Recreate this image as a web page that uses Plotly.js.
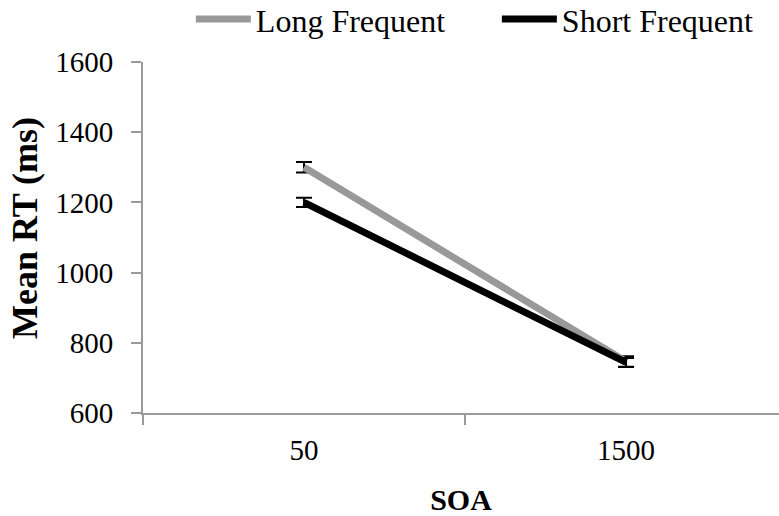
<!DOCTYPE html>
<html>
<head>
<meta charset="utf-8">
<script src="https://cdn.plot.ly/plotly-3.0.1.min.js"></script>
<style>html,body{margin:0;padding:0;overflow:hidden;background:#fff;}</style>
</head>
<body>
<div id="chart" style="width:779px;height:516px;"></div>
<script>
const categories = ["50", "1500"];
const longFrequent = [1300, 747];
const longFrequentErr = [15, 15];
const shortFrequent = [1200, 744];
const shortFrequentErr = [13, 13];
const yTicks = [600, 800, 1000, 1200, 1400, 1600];

const font = "Liberation Serif, Times New Roman, serif";
const axisGray = "#9a9a9a";

const traces = [
  {
    x: categories, y: longFrequent, name: "Long Frequent", type: "scatter", mode: "lines",
    line: {color: "#999999", width: 7},
    error_y: {type: "data", array: longFrequentErr, visible: true, color: "#000", thickness: 2, width: 8}
  },
  {
    x: categories, y: shortFrequent, name: "Short Frequent", type: "scatter", mode: "lines",
    line: {color: "#000000", width: 7},
    error_y: {type: "data", array: shortFrequentErr, visible: true, color: "#000", thickness: 2, width: 8}
  }
];

const layout = {
  width: 779, height: 516,
  margin: {l: 143, r: 0, t: 62, b: 103, autoexpand: false},
  paper_bgcolor: "#fff", plot_bgcolor: "#fff",
  font: {family: font, size: 29, color: "#000"},
  showlegend: true,
  legend: {orientation: "h", x: 0.245, xref: "container", xanchor: "left", y: 1.2, yanchor: "top", yref: "paper",
           itemwidth: 55, entrywidth: 236, entrywidthmode: "pixels",
           font: {family: font, size: 32, color: "#000"}, traceorder: "normal", bgcolor: "rgba(0,0,0,0)"},
  xaxis: {
    type: "category", range: [-0.5, 1.475], automargin: false,
    showline: true, linecolor: axisGray, linewidth: 2,
    showgrid: false, zeroline: false,
    ticks: "outside", tickson: "boundaries", ticklen: 10, tickcolor: axisGray, tickwidth: 2,
    tickfont: {family: font, size: 29, color: "#000"},
    ticklabelstandoff: 10,
    title: {text: "<b>SOA</b>", font: {family: font, size: 30, color: "#000"}, standoff: 27}
  },
  yaxis: {
    range: [600, 1600], tickvals: yTicks, ticktext: yTicks.map(String), automargin: false,
    showline: true, linecolor: axisGray, linewidth: 2,
    showgrid: false, zeroline: false,
    ticks: "outside", ticklen: 10, tickcolor: axisGray, tickwidth: 2,
    tickfont: {family: font, size: 29, color: "#000"},
    ticklabelstandoff: 12
  },
  annotations: [{
    text: "<b>Mean RT (ms)</b>", textangle: -90, showarrow: false,
    xref: "paper", yref: "paper", x: -0.1855, y: 0.527, xanchor: "center", yanchor: "middle",
    font: {family: font, size: 36, color: "#000"}
  }]
};

Plotly.newPlot("chart", traces, layout, {displayModeBar: false, staticPlot: true});
</script>
</body>
</html>
